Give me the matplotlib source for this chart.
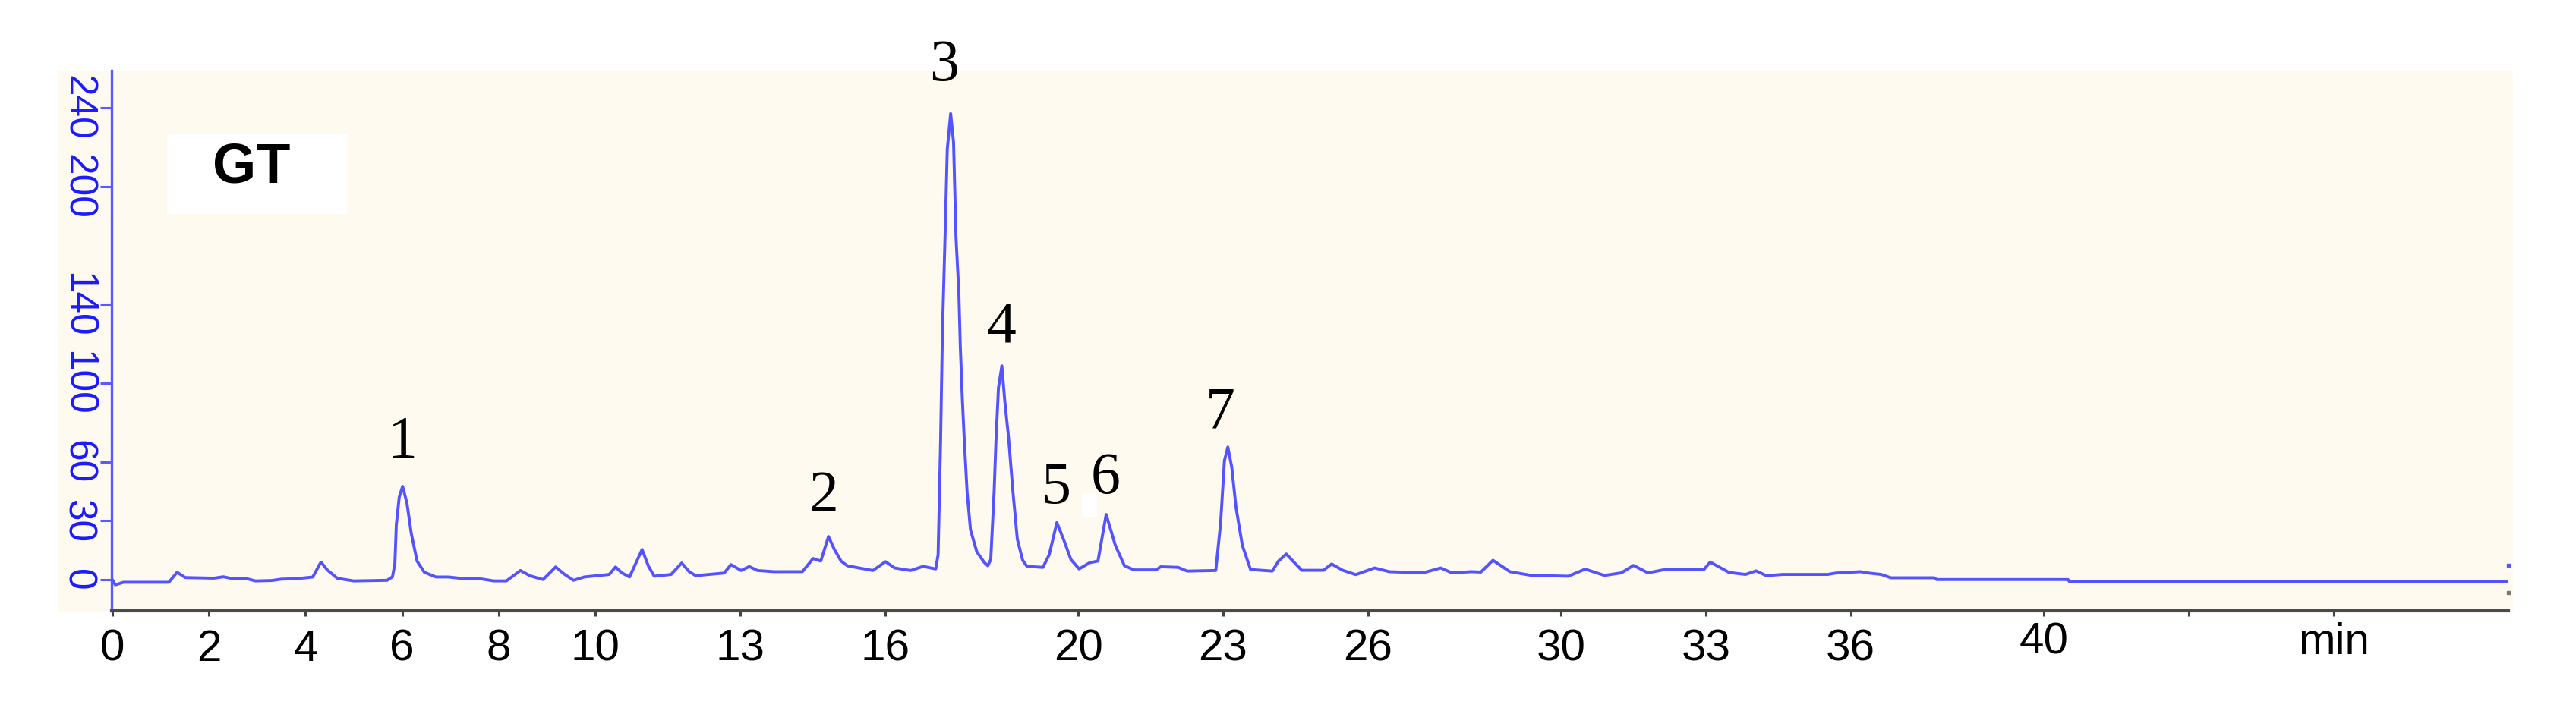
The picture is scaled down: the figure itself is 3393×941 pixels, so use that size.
import numpy as np
import matplotlib
matplotlib.use('Agg')
import matplotlib.pyplot as plt
from matplotlib.patches import Rectangle
from matplotlib.transforms import ScaledTranslation

# chromatogram trace (time in min, signal)
time_min = [0.0, 0.06, 0.23, 1.17, 1.34, 1.51, 2.1, 2.3, 2.5, 2.79, 2.96, 3.3, 3.5, 3.81, 4.15,
            4.32, 4.45, 4.66, 5.0, 5.69, 5.8, 5.85, 5.88, 5.94, 6.01, 6.1, 6.19, 6.31, 6.46, 6.7,
            6.96, 7.22, 7.56, 7.9, 8.16, 8.45, 8.65, 8.92, 9.18, 9.35, 9.55, 9.77, 10.29, 10.42,
            10.55, 10.71, 10.97, 11.1, 11.22, 11.57, 11.79, 11.95, 12.08, 12.67, 12.81, 13.02,
            13.19, 13.36, 13.7, 14.29, 14.51, 14.67, 14.83, 14.95, 15.09, 15.22, 15.75, 16.01,
            16.2, 16.53, 16.79, 17.05, 17.1, 17.15, 17.19, 17.25, 17.29, 17.36, 17.42, 17.47,
            17.53, 17.56, 17.6, 17.64, 17.7, 17.77, 17.9, 18.05, 18.13, 18.19, 18.26, 18.3,
            18.35, 18.42, 18.48, 18.56, 18.65, 18.74, 18.85, 18.94, 19.27, 19.4, 19.56, 19.72,
            19.85, 20.02, 20.24, 20.41, 20.58, 20.77, 20.96, 21.16, 21.61, 21.71, 22.07, 22.26,
            22.85, 22.95, 23.03, 23.1, 23.18, 23.27, 23.4, 23.57, 24.02, 24.15, 24.31, 24.63,
            25.08, 25.25, 25.48, 25.75, 26.14, 26.44, 27.14, 27.51, 27.74, 28.14, 28.34, 28.59,
            28.94, 29.39, 30.15, 30.5, 30.9, 31.25, 31.5, 31.8, 32.15, 32.96, 33.09, 33.48,
            33.82, 34.04, 34.25, 34.59, 35.52, 35.69, 36.2, 36.37, 36.63, 36.83, 37.73, 37.78,
            40.5, 40.53, 49.62]
signal = [0.0, -2.6, -1.3, -1.3, 3.8, 1.1, 0.8, 1.5, 0.5, 0.5, -0.6, -0.4, 0.3, 0.5, 1.4,
          9.0, 5.0, 0.7, -0.6, -0.3, 1.5, 8.0, 28.0, 42.0, 47.5, 39.0, 23.5, 9.5, 3.8, 1.4,
          1.4, 0.7, 0.7, -0.6, -0.6, 4.7, 2.0, 0.1, 6.5, 3.0, -0.3, 1.4, 2.7, 6.5,
          3.5, 1.4, 15.4, 7.0, 1.8, 2.7, 8.5, 4.0, 2.1, 3.4, 7.7, 4.7,
          6.7, 4.7, 4.1, 4.1, 10.8, 9.5, 22.0, 15.5, 9.5, 7.1, 4.7, 9.2,
          6.0, 4.7, 6.8, 5.5, 12.7, 68.7, 126.4, 180.0, 219.0, 237.1, 222.4, 174.4,
          145.6, 118.4, 92.8, 72.0, 44.7, 25.5, 14.3, 9.0, 7.1, 10.3, 44.7, 72.0,
          97.6, 108.8, 91.1, 72.0, 44.7, 20.7, 10.0, 6.8, 6.3, 12.7, 29.1, 19.1,
          10.3, 5.5, 8.7, 9.5, 33.2, 17.5, 7.1, 5.0, 5.0, 6.6, 6.3, 4.4,
          4.7, 28.7, 60.7, 67.5, 57.5, 36.7, 17.5, 5.2, 4.4, 9.5, 13.1, 4.8,
          4.8, 8.0, 4.8, 2.6, 6.0, 4.1, 3.5, 6.0, 3.5, 4.1, 3.9, 9.9,
          4.1, 2.2, 1.8, 5.4, 2.2, 3.5, 7.3, 3.5, 5.2, 5.2, 9.0, 3.7,
          2.7, 4.5, 2.1, 2.7, 2.7, 3.4, 4.1, 3.4, 2.7, 1.0, 1.0, 0.1,
          0.1, -1.0, -1.0]

peak_labels = ['1', '2', '3', '4', '5', '6', '7']
peak_times = [6.01, 14.83, 17.36, 18.42, 19.56, 20.58, 23.10]
peak_heights = [47.5, 22.0, 237.1, 108.8, 29.1, 33.2, 67.5]
# label offsets from peak top (pixels)
label_dx = [-1, -6, -9, -1, -1, -1, -10]
label_dy = [39, 33, 44, 32, 26, 28, 26]

xtick_pos = [0, 2, 4, 6, 8, 10, 13, 16, 20, 23, 26, 30, 33, 36, 40, 43, 46]
xtick_lab = ['0', '2', '4', '6', '8', '10', '13', '16', '20', '23', '26', '30', '33',
             '36', '40', '', 'min']
ytick_pos = [0, 30, 60, 100, 140, 200, 240]

beige = '#fffaef'
trace_blue = '#5353ff'
narrow = ['Liberation Sans Narrow', 'Liberation Sans', 'DejaVu Sans']

W, H = 3393, 941
fig = plt.figure(figsize=(W / 100, H / 100), dpi=100)
fig.patch.set_facecolor('white')

bg = Rectangle((77 / W, (H - 807) / H), (3310 - 77) / W, (807 - 93) / H,
               transform=fig.transFigure, facecolor=beige, edgecolor='none', zorder=-5)
fig.add_artist(bg)

ax = fig.add_axes([147 / W, (H - 805) / H, (3304 - 147) / W, (805 - 93) / H])
ax.set_facecolor('none')

ax.plot(time_min, signal, color=trace_blue, lw=2.8, solid_joinstyle='round')

ax.set_xlim(-0.016, 49.62)
ax.set_ylim(-15.8, 259.0)

for s in ['top', 'right']:
    ax.spines[s].set_visible(False)
ax.spines['left'].set_color('#5a5aff')
ax.spines['left'].set_linewidth(2.4)
ax.spines['bottom'].set_color('#4a4a4a')
ax.spines['bottom'].set_linewidth(3.0)

ax.set_xticks(xtick_pos)
ax.set_xticklabels(xtick_lab, family=narrow, fontsize=42, color='black')
ax.tick_params(axis='x', direction='out', length=5, width=2.2, color='#444444', pad=12)
for lab in ax.get_xticklabels():
    if lab.get_text() in ('40', 'min'):
        lab.set_transform(lab.get_transform() + ScaledTranslation(0, 9 / 100, fig.dpi_scale_trans))

ax.set_yticks(ytick_pos)
ax.set_yticklabels([str(v) for v in ytick_pos], family=narrow, fontsize=37,
                   color='#1a1aff', rotation=270, va='center')
ax.tick_params(axis='y', direction='out', length=10.8, width=2.2, color='#5a5aff', pad=4)

# peak numbers
for lab, t, h, dx, dy in zip(peak_labels, peak_times, peak_heights, label_dx, label_dy):
    ax.annotate(lab, xy=(t, h), xytext=(dx, dy), textcoords='offset pixels',
                ha='center', va='baseline', fontsize=56, family='Liberation Serif',
                color='black', annotation_clip=False)

# small white patch left of label 6
ax.add_patch(Rectangle((20.08, 32), 0.31, 12, facecolor='white', edgecolor='none', zorder=3))

# sample box
ax.add_patch(Rectangle((1.13, 186.1), 3.73, 40.5, facecolor='white', edgecolor='none', zorder=3))
ax.text(2.88, 209.5, 'GT', ha='center', va='center', fontsize=53, fontweight='bold',
        family='Liberation Sans', color='black', zorder=4)

# edge markers at the right end of the trace
ax.plot([49.62], [7.3], marker='s', ms=2.5, color=trace_blue, clip_on=False)
ax.plot([49.62], [-6.5], marker='s', ms=2.5, color='#777777', clip_on=False)

fig.savefig('out.png', dpi=100, facecolor='white')
